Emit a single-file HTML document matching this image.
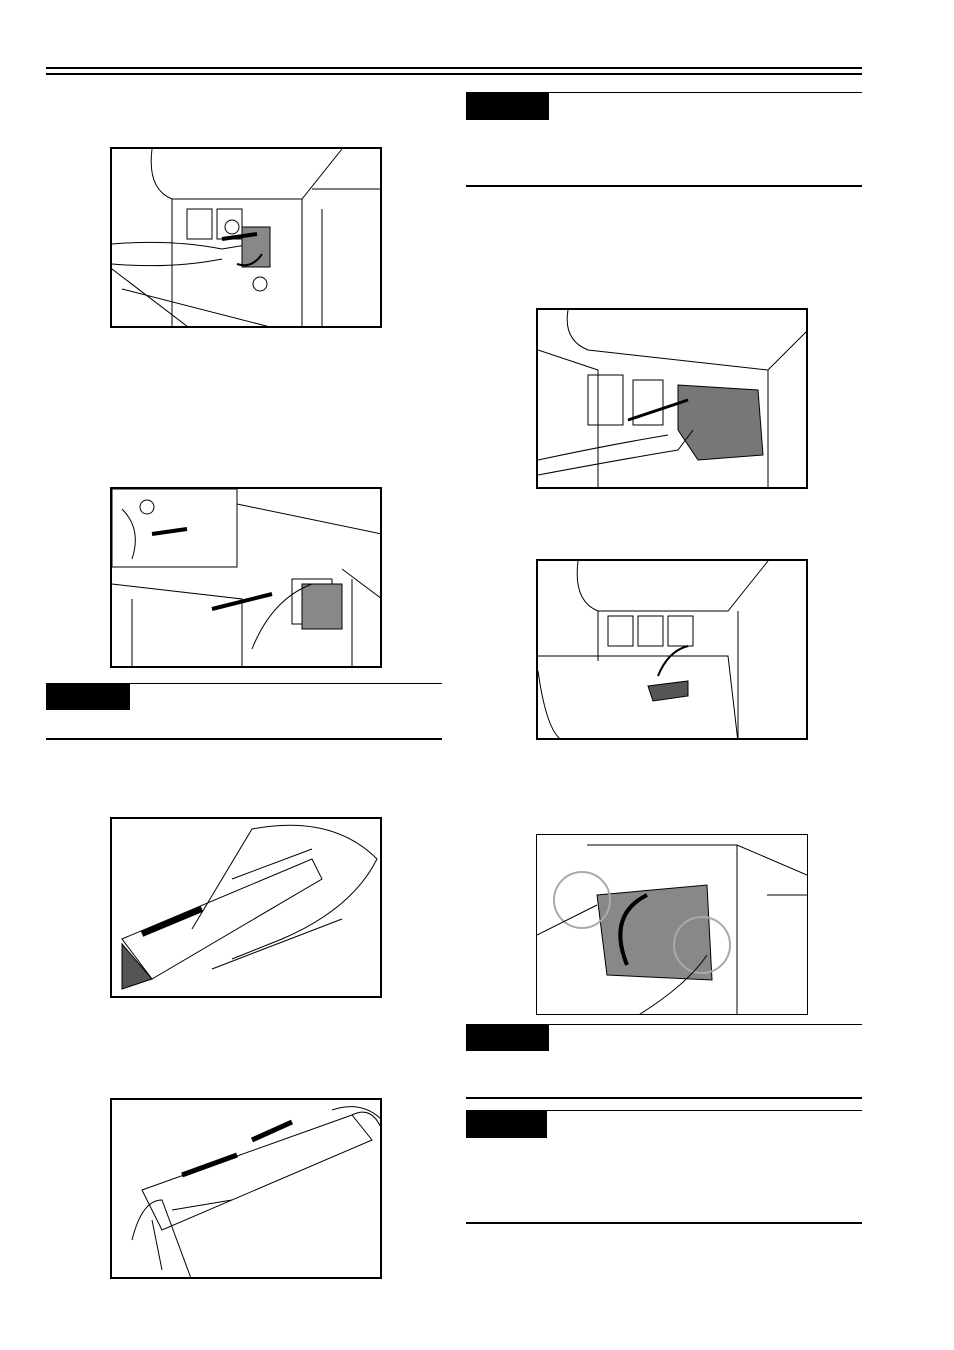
<!DOCTYPE html>
<html><head><meta charset="utf-8"><style>
html,body{margin:0;padding:0;background:#fff;width:954px;height:1350px;overflow:hidden;font-family:"Liberation Sans",sans-serif}
.a{position:absolute}
.fig{position:absolute;border:2px solid #000;box-sizing:border-box;background:#fff;overflow:hidden}
.lab{position:absolute;background:#000}
.ln{position:absolute;background:#000}
svg{position:absolute;left:0;top:0}
</style></head><body>
<div class="ln" style="left:46px;top:67px;width:816px;height:2px"></div>
<div class="ln" style="left:46px;top:73px;width:816px;height:2px"></div>

<!-- right top note -->
<div class="lab" style="left:466px;top:92px;width:83px;height:28px"></div>
<div class="ln" style="left:549px;top:92px;width:313px;height:1px"></div>
<div class="ln" style="left:466px;top:185px;width:396px;height:2px"></div>

<!-- fig1 -->
<div class="fig" style="left:110px;top:147px;width:272px;height:181px">
<svg width="272" height="181" stroke="#000" fill="none" stroke-width="1">
<path d="M40 0 Q35 40 60 50 L190 50 L230 0 M60 50 L60 181 M190 50 L190 181 M200 40 L270 40 M210 60 L210 181"/>
<path d="M0 95 Q60 90 110 100 L140 95 M0 115 Q60 120 110 110"/>
<path d="M0 120 L80 181 M10 140 L170 181"/>
<rect x="75" y="60" width="25" height="30"/><rect x="105" y="60" width="25" height="30"/>
<rect x="130" y="78" width="28" height="40" fill="#888"/>
<path d="M110 90 L145 85" stroke-width="4"/><path d="M125 115 Q140 120 150 105" stroke-width="2"/>
<circle cx="120" cy="78" r="7"/><circle cx="148" cy="135" r="7"/>
</svg></div>

<!-- fig2 -->
<div class="fig" style="left:110px;top:487px;width:272px;height:181px">
<svg width="272" height="181" stroke="#000" fill="none" stroke-width="1">
<rect x="0" y="0" width="125" height="78" fill="#fff"/>
<path d="M125 0 L125 78 L0 78 M125 15 L270 45 M230 80 L270 110 M240 90 L240 181"/>
<path d="M0 95 L130 110 L130 181 M20 181 L20 110"/>
<rect x="180" y="90" width="40" height="45"/>
<rect x="180" y="95" width="40" height="45" fill="#888" transform="translate(10,0)"/>
<path d="M100 120 L160 105" stroke-width="4"/><path d="M140 160 Q160 110 200 95"/>
<path d="M40 45 L75 40" stroke-width="4"/><circle cx="35" cy="18" r="7"/>
<path d="M10 20 Q30 40 20 70"/>
</svg></div>

<div class="lab" style="left:46px;top:683px;width:84px;height:27px"></div>
<div class="ln" style="left:130px;top:683px;width:312px;height:1px"></div>
<div class="ln" style="left:46px;top:738px;width:396px;height:2px"></div>

<!-- fig3 -->
<div class="fig" style="left:110px;top:817px;width:272px;height:181px">
<svg width="272" height="181" stroke="#000" fill="none" stroke-width="1">
<path d="M10 120 L200 40 L210 60 L40 160 Z" fill="#fff"/>
<path d="M10 125 L40 160 L10 170 Z" fill="#555"/>
<path d="M80 110 L140 10 Q220 -5 265 40 Q240 90 170 120 L120 140"/>
<path d="M30 115 L90 90" stroke-width="6" stroke="#000"/>
<path d="M100 150 L230 100 M120 60 L200 30"/>
</svg></div>

<!-- fig4 -->
<div class="fig" style="left:110px;top:1098px;width:272px;height:181px">
<svg width="272" height="181" stroke="#000" fill="none" stroke-width="1">
<path d="M30 90 L240 15 L260 40 L50 130 Z"/>
<path d="M60 110 L120 100 M40 120 L50 170 M240 15 Q260 5 270 30"/>
<path d="M70 75 L125 55" stroke-width="5"/><path d="M140 40 L180 22" stroke-width="5"/>
<path d="M20 140 Q30 100 50 100 L80 181 M220 10 Q250 0 270 20"/>
</svg></div>

<!-- fig5 -->
<div class="fig" style="left:536px;top:308px;width:272px;height:181px">
<svg width="272" height="181" stroke="#000" fill="none" stroke-width="1">
<path d="M30 0 Q25 30 50 40 L230 60 L270 20 M0 40 L60 60 L60 181 M230 60 L230 181"/>
<rect x="50" y="65" width="35" height="50"/><rect x="95" y="70" width="30" height="45"/>
<path d="M140 75 L220 80 L225 145 L160 150 L140 120 Z" fill="#777"/>
<path d="M90 110 L150 90" stroke-width="3"/>
<path d="M0 165 Q80 150 140 140 L155 120 M0 150 Q70 135 130 125"/>
</svg></div>

<!-- fig6 -->
<div class="fig" style="left:536px;top:559px;width:272px;height:181px">
<svg width="272" height="181" stroke="#000" fill="none" stroke-width="1">
<path d="M40 0 Q35 40 60 50 L190 50 L230 0 M60 50 L60 100 M200 50 L200 181"/>
<rect x="70" y="55" width="25" height="30"/><rect x="100" y="55" width="25" height="30"/><rect x="130" y="55" width="25" height="30"/>
<path d="M0 95 L190 95 L200 181 M0 110 Q10 181 30 181"/>
<path d="M110 125 L150 120 L150 135 L115 140 Z" fill="#555"/>
<path d="M120 115 Q130 90 150 85" stroke-width="2"/>
</svg></div>

<!-- fig7 -->
<div class="fig" style="left:536px;top:834px;width:272px;height:181px;border-width:1px">
<svg width="272" height="181" stroke="#000" fill="none" stroke-width="1">
<path d="M50 10 L200 10 L270 40 M200 10 L200 181 M230 60 L270 60"/>
<path d="M60 60 L170 50 L175 145 L70 140 Z" fill="#888"/>
<circle cx="45" cy="65" r="28" stroke="#aaa" stroke-width="2"/>
<circle cx="165" cy="110" r="28" stroke="#aaa" stroke-width="2"/>
<path d="M90 130 Q70 80 110 60" stroke-width="4"/>
<path d="M0 100 Q40 80 60 70 M100 181 Q150 150 170 120"/>
</svg></div>

<div class="lab" style="left:466px;top:1024px;width:83px;height:27px"></div>
<div class="ln" style="left:549px;top:1024px;width:313px;height:1px"></div>
<div class="ln" style="left:466px;top:1097px;width:396px;height:2px"></div>

<div class="lab" style="left:466px;top:1110px;width:81px;height:28px"></div>
<div class="ln" style="left:547px;top:1110px;width:315px;height:1px"></div>
<div class="ln" style="left:466px;top:1222px;width:396px;height:2px"></div>
</body></html>
